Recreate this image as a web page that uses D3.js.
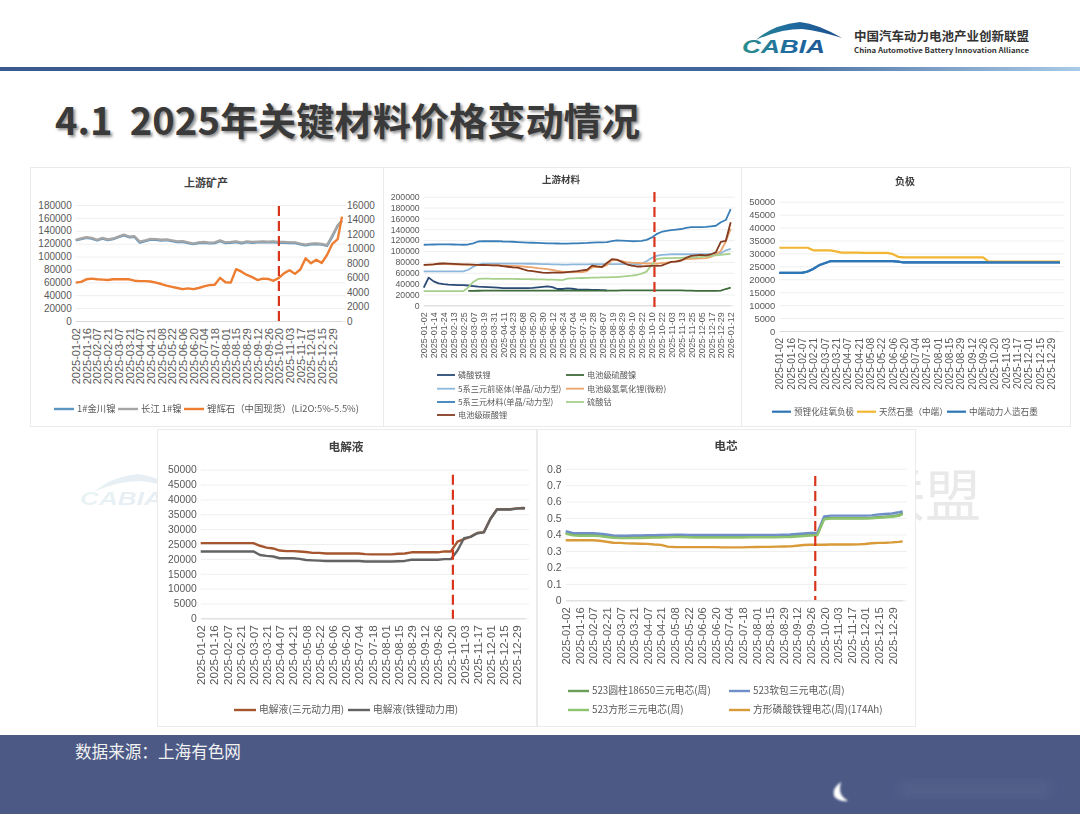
<!DOCTYPE html>
<html>
<head>
    <meta charset="utf-8">
    <title>2025年关键材料价格变动情况</title>
    <script src="https://d3js.org/d3.v7.min.js"></script>
    <style>
        body {
            margin: 0;
            background-color: white;
            font-family: "Noto Sans CJK SC", "Noto Sans", sans-serif;
        }
        svg { display: block; }
        .charts { filter: blur(0.35px); }
        .tick text, .legend text { fill: #595959; }
        .chart-title { fill: #404040; font-weight: 700; text-anchor: middle; }
    </style>
</head>
<body>
    <div id="slide"></div>
    <script>
        // Tick labels (one every 10 trading days, the series hold 2 samples per tick)
        const datesA = ["2025-01-02","2025-01-16","2025-02-07","2025-02-21","2025-03-07","2025-03-21","2025-04-07","2025-04-21","2025-05-08","2025-05-22","2025-06-06","2025-06-20","2025-07-04","2025-07-18","2025-08-01","2025-08-15","2025-08-29","2025-09-12","2025-09-26","2025-10-20","2025-11-03","2025-11-17","2025-12-01","2025-12-15","2025-12-29"];
        const datesB = ["2025-01-02","2025-01-14","2025-01-24","2025-02-13","2025-02-25","2025-03-07","2025-03-19","2025-03-31","2025-04-11","2025-04-23","2025-05-08","2025-05-20","2025-05-30","2025-06-12","2025-06-24","2025-07-04","2025-07-16","2025-07-28","2025-08-07","2025-08-19","2025-08-29","2025-09-10","2025-09-22","2025-10-10","2025-10-22","2025-11-03","2025-11-13","2025-11-25","2025-12-05","2025-12-17","2025-12-29","2026-01-12"];

        // 上游矿产
        const jinchuan = [125000,127000,129000,128000,125000,128000,125500,127000,130000,133000,130000,130500,121500,124000,126500,126000,125000,125500,124000,122500,123000,121000,119500,121000,121500,120500,121000,124000,121000,121500,122500,120500,122500,121500,122000,122500,122000,122500,121500,121500,121000,121000,119000,117500,119000,119500,118500,116500,131000,148000,156000];
        const changjiang = [126000,128000,130000,129000,126000,129000,126500,128000,131000,134000,131000,131500,123000,125000,127500,127000,126000,126500,125000,123500,124000,122000,120000,122000,122500,121500,122000,125000,122000,122500,123500,121500,123500,122500,123000,123500,123000,123500,122500,122500,122000,122000,120000,118500,120000,120500,119500,117500,133000,148000,155000];
        const spodumene = [5300,5400,5750,5850,5750,5700,5650,5750,5750,5750,5750,5560,5500,5500,5450,5300,5100,4870,4700,4550,4400,4500,4400,4550,4780,4950,5000,5950,5350,5300,7150,6800,6350,6050,5650,5850,5800,5550,5950,6600,7000,6500,7100,8650,7950,8450,8000,9100,10650,11300,14400];

        // 上游材料
        const lfp = [32500,51000,44000,40500,39000,38000,37500,37000,37000,36500,35500,34500,34000,33500,33000,32500,31800,31500,31500,31500,31500,31500,32000,33000,34000,35000,33500,30000,30000,31000,30500,29500,29000,28800,28500,28300,28000,27500,null,null,null,null,null,null,null,null,null,null,null,null,null,null,null,null,null,null,null,null,null,null,null,null,null];
        const nickelSulfate = [null,null,null,null,null,null,null,null,null,26500,26500,26800,27000,27000,27000,27000,27000,27000,27000,27000,27000,27000,27000,27000,27000,27000,27000,27000,27000,27000,27000,27000,27000,27000,27000,27000,27000,27000,27000,27000,27500,27500,27500,27500,27500,27500,27500,27500,27500,27500,27500,27500,27500,27000,27000,26500,26500,26500,26500,26500,27000,30000,32500];
        const precursor = [62600,62600,62600,62600,62600,62600,62600,62600,62600,65500,71000,75000,76500,76800,76800,76800,76800,76800,76800,76800,76700,76500,76500,76300,76000,75800,75500,75200,75000,75000,75200,75300,75500,75500,75800,76000,76000,76000,76000,76000,76000,76000,76000,76000,76500,81000,87000,91000,93000,93500,94000,94000,94000,94000,94000,94000,94000,94000,94500,95000,96000,101000,104000];
        const lioh = [74000,74500,75500,76500,76500,76000,75500,75000,75000,74500,74500,74000,74000,74000,73500,73500,73000,72500,72500,72000,71500,70500,70000,68500,67500,66500,65000,63500,62000,61500,61000,61000,61000,63000,70000,71000,70500,74000,83000,83500,81500,79500,78500,78000,77500,77000,77000,76500,77500,78500,80000,81500,83000,85000,85500,86000,86500,87000,89000,94000,100000,117000,141000];
        const cathode = [111500,111800,112000,112200,112300,112300,112000,111800,111500,112000,114000,117500,118000,118000,118200,118000,117500,117300,117000,116500,116000,115500,115200,114800,114500,114200,114000,113800,113500,113500,114000,114200,114500,114800,115500,116000,116000,116500,118000,119500,119000,118500,118000,118200,118500,120500,124500,131000,135000,137000,138500,139500,140500,142500,143800,144000,144000,144500,145500,146500,153000,157000,177000];
        const cobalt = [26000,26000,26000,26000,26000,26000,26000,26000,26000,33000,43000,48500,49000,49000,48800,48700,48600,48500,48500,48400,48300,48200,48000,47800,47600,47400,47200,46800,46500,49000,49500,50000,50300,50500,50800,51000,51300,51500,51800,52000,53000,53800,54500,55800,58500,62000,74000,85000,86500,87000,87000,87300,87500,88000,88300,88500,89000,90000,91000,92000,93000,94000,95000];
        const carbonate = [74500,75000,75500,76500,77000,76800,76300,76000,75500,75200,74800,74500,74200,74000,73700,73500,72000,71000,70000,69500,66500,64000,63000,61500,60000,59800,60000,60000,60000,61000,62000,63000,64500,65500,73000,71500,70500,78000,85000,84000,80000,75500,73000,71500,71500,72000,72500,72500,73000,76500,80000,80500,82500,87500,91000,92000,93000,92000,94000,97500,117000,118500,153000];

        // 负极
        const siliconOxide = [22500,22500,22500,22500,22500,23000,24000,25400,26200,27000,27000,27000,27000,27000,27000,27000,27000,27000,27000,27000,27000,26800,26500,26500,26500,26500,26500,26500,26500,26500,26500,26500,26500,26500,26500,26500,26500,26500,26500,26500,26500,26500,26500,26500,26500,26500,26500,26500,26500,26500,26500];
        const naturalGraphite = [32200,32200,32200,32200,32200,32200,31200,31200,31200,31200,30800,30300,30300,30300,30300,30200,30200,30200,30200,30200,29800,28700,28500,28500,28500,28500,28500,28500,28500,28500,28500,28500,28500,28500,28500,28500,28500,26800,26800,26800,26800,26800,26800,26800,26800,26800,26800,26800,26800,26800,26800];
        const artificialGraphite = [22500,22500,22500,22500,22500,23000,24000,25400,26200,27000,27000,27000,27000,27000,27000,27000,27000,27000,27000,27000,27000,26800,26500,26500,26500,26500,26500,26500,26500,26500,26500,26500,26500,26500,26500,26500,26500,26500,26500,26500,26500,26500,26500,26500,26500,26500,26500,26500,26500,26500,26500];

        // 电解液
        const electrolyteNcm = [25300,25300,25300,25300,25300,25300,25300,25300,25300,24400,23800,23500,22800,22600,22600,22500,22300,22000,22000,21800,21800,21800,21800,21800,21800,21600,21500,21500,21500,21500,21700,21800,22200,22200,22200,22200,22200,22500,22500,25800,26600,27500,28700,29000,33500,36700,36700,36700,37000,37100,37000];
        const electrolyteLfp = [22500,22500,22500,22500,22500,22500,22500,22500,22500,21300,21000,20800,20200,20200,20200,20000,19600,19500,19400,19300,19300,19300,19300,19300,19300,19100,19100,19100,19100,19100,19200,19300,19700,19700,19700,19700,19700,19900,19900,22800,27000,27400,28600,28900,33400,36600,36600,36600,36900,37100,37000];

        // 电芯
        const cellCylinder = [.41,.4,.398,.398,.398,.395,.39,.385,.382,.383,.384,.384,.385,.386,.387,.388,.389,.389,.388,.387,.387,.387,.387,.387,.387,.387,.387,.388,.388,.388,.388,.388,.389,.39,.393,.396,.399,.4,.497,.5,.5,.5,.5,.5,.5,.502,.505,.508,.511,.518,.53];
        const cellPouch = [.42,.41,.408,.408,.408,.405,.4,.395,.392,.393,.394,.394,.395,.396,.397,.398,.399,.399,.398,.397,.397,.397,.397,.397,.397,.397,.397,.398,.398,.398,.398,.398,.399,.4,.403,.406,.409,.41,.51,.515,.515,.515,.515,.515,.515,.516,.522,.525,.528,.535,.54];
        const cellPrism = [.405,.395,.392,.392,.392,.39,.385,.38,.378,.378,.379,.379,.38,.381,.382,.383,.384,.384,.383,.382,.382,.382,.382,.382,.382,.382,.382,.383,.383,.383,.383,.383,.384,.385,.388,.391,.394,.395,.493,.497,.497,.497,.497,.497,.497,.499,.502,.505,.508,.513,.525];
        const cellLfp = [.365,.365,.365,.365,.365,.362,.356,.35,.349,.346,.345,.344,.343,.339,.337,.326,.324,.323,.323,.323,.323,.323,.323,.322,.322,.322,.322,.323,.324,.325,.325,.326,.327,.328,.332,.336,.338,.338,.338,.339,.339,.339,.339,.34,.342,.347,.349,.35,.352,.355,.358];

        const width = 1080;
        const height = 814;
        const svg = d3.select("#slide").append("svg")
            .attr("width", width)
            .attr("height", height);

        // Logo, also used as the pale watermark behind the lower charts
        function drawLogo(g) {
            g.append("path")
                .attr("d", "M756,40 Q772,25 800,22 Q818,24 842,38 Q820,31 802,29 Q780,29 756,40 Z")
                .attr("fill", "url(#logoGrad)");
            g.append("text")
                .attr("x", 742).attr("y", 53)
                .attr("textLength", 83)
                .attr("lengthAdjust", "spacingAndGlyphs")
                .attr("font-family", "Liberation Sans")
                .attr("font-style", "italic")
                .attr("font-weight", 700)
                .attr("font-size", 19)
                .attr("fill", "url(#logoGrad)")
                .text("CABIA");
        }

        const defs = svg.append("defs");
        const logoGrad = defs.append("linearGradient").attr("id", "logoGrad")
            .attr("gradientUnits", "userSpaceOnUse")
            .attr("x1", 742).attr("x2", 842).attr("y1", 0).attr("y2", 0);
        logoGrad.append("stop").attr("offset", 0).attr("stop-color", "#2b8f8c");
        logoGrad.append("stop").attr("offset", 0.5).attr("stop-color", "#1f6aa0");
        logoGrad.append("stop").attr("offset", 1).attr("stop-color", "#1f4e8c");
        const ruleGrad = defs.append("linearGradient").attr("id", "ruleGrad");
        ruleGrad.append("stop").attr("offset", 0).attr("stop-color", "#3a5a8e");
        ruleGrad.append("stop").attr("offset", 0.7).attr("stop-color", "#41679c");
        ruleGrad.append("stop").attr("offset", 1).attr("stop-color", "#a9cbe8");
        defs.append("filter").attr("id", "smudge")
            .append("feGaussianBlur").attr("stdDeviation", 1.2);
        defs.append("filter").attr("id", "smudgeWide")
            .append("feGaussianBlur").attr("stdDeviation", 5);

        // Header
        drawLogo(svg.append("g"));
        svg.append("text")
            .attr("x", 854).attr("y", 41)
            .attr("textLength", 175)
            .attr("lengthAdjust", "spacingAndGlyphs")
            .attr("font-size", 12.5)
            .attr("font-weight", 700)
            .attr("fill", "#333")
            .text("中国汽车动力电池产业创新联盟");
        svg.append("text")
            .attr("x", 854).attr("y", 52.5)
            .attr("textLength", 175)
            .attr("lengthAdjust", "spacingAndGlyphs")
            .attr("font-size", 7)
            .attr("font-weight", 700)
            .attr("fill", "#333")
            .text("China Automotive Battery Innovation Alliance");
        svg.append("rect")
            .attr("x", 0).attr("y", 67)
            .attr("width", width).attr("height", 4)
            .attr("fill", "url(#ruleGrad)");
        svg.append("text")
            .attr("x", 55).attr("y", 135)
            .attr("textLength", 585)
            .attr("lengthAdjust", "spacingAndGlyphs")
            .attr("font-size", 38)
            .attr("font-weight", 700)
            .attr("fill", "#3a3a3a")
            .style("text-shadow", "2px 2px 3px rgba(0,0,0,0.45)")
            .text("4.1\u00a0\u00a02025年关键材料价格变动情况");

        // Watermark
        drawLogo(svg.append("g")
            .attr("opacity", 0.1)
            .attr("transform", "translate(-662,452)"));
        svg.append("text")
            .attr("x", 981).attr("y", 516)
            .attr("text-anchor", "end")
            .attr("font-size", 56)
            .attr("fill", "#e9e9e9")
            .text("联盟");

        // Footer
        svg.append("rect")
            .attr("x", 0).attr("y", 735)
            .attr("width", width).attr("height", 79)
            .attr("fill", "#4c5985");
        svg.append("text")
            .attr("x", 75).attr("y", 757.5)
            .attr("font-size", 16.6)
            .attr("fill", "#f2f2f2")
            .text("数据来源：上海有色网");
        svg.append("path")
            .attr("d", "M841,782 Q832,788 834,796 Q838,802 848,801 Q840,796 840,790 Q840,785 841,782 Z")
            .attr("fill", "white")
            .attr("filter", "url(#smudge)");
        svg.append("rect")
            .attr("x", 900).attr("y", 780)
            .attr("width", 150).attr("height", 18)
            .attr("fill", "#525e89")
            .attr("filter", "url(#smudgeWide)");

        const charts = svg.append("g").attr("class", "charts");

        function drawChart(c) {
            const g = charts.append("g");

            g.append("rect")
                .attr("x", c.panel[0] + 0.5).attr("y", c.panel[1] + 0.5)
                .attr("width", c.panel[2]).attr("height", c.panel[3])
                .attr("fill", "white")
                .attr("stroke", "#ebebeb");

            g.append("text")
                .attr("class", "chart-title")
                .attr("x", c.title[1]).attr("y", c.title[2])
                .attr("font-size", c.title[3])
                .text(c.title[0]);

            // x: sample index, the last sample sits at the plot's right edge
            const x = d3.scaleLinear().domain([0, c.endIndex]).range([c.left, c.right]);
            const y = d3.scaleLinear().domain([0, c.yMax]).range([c.bottom, c.top]);

            const gridAxis = d3.axisLeft(y)
                .tickValues(d3.range(0, c.yMax + c.yStep / 2, c.yStep))
                .tickSize(-(c.right - c.left + 4))
                .tickPadding(4)
                .tickFormat(d => +d.toFixed(1));
            const yAxis = g.append("g")
                .attr("transform", `translate(${c.left},0)`)
                .call(gridAxis);
            yAxis.select(".domain").remove();
            yAxis.selectAll("line").attr("stroke", "#efefef");
            yAxis.selectAll("text").attr("font-size", c.yFont);

            const tickIndex = c.dates.map((d, i) => i * 2);
            const xAxis = g.append("g")
                .attr("transform", `translate(0,${c.bottom})`)
                .call(d3.axisBottom(x)
                    .tickValues(tickIndex)
                    .tickSize(0)
                    .tickFormat(i => c.dates[i / 2]));
            xAxis.select(".domain").attr("stroke", "#d9d9d9");
            xAxis.selectAll("text")
                .attr("font-size", c.xFont)
                .attr("text-anchor", "end")
                .attr("transform", "rotate(-90)")
                .attr("x", -7)
                .attr("y", 0)
                .attr("dy", "0.35em");

            let yRight = null;
            if (c.yRightMax) {
                yRight = d3.scaleLinear().domain([0, c.yRightMax]).range([c.bottom, c.top]);
                const rightAxis = g.append("g")
                    .attr("transform", `translate(${c.right},0)`)
                    .call(d3.axisRight(yRight).ticks(8).tickSize(0).tickPadding(5).tickFormat(d3.format("d")));
                rightAxis.select(".domain").remove();
                rightAxis.selectAll("text").attr("font-size", c.yFont);
            }

            c.series.forEach(s => {
                const sy = s.right ? yRight : y;
                const line = d3.line()
                    .defined(d => d !== null)
                    .x((d, i) => x(Math.min(i, c.endIndex)))
                    .y(d => sy(d));
                g.append("path")
                    .datum(s.values)
                    .attr("fill", "none")
                    .attr("stroke", s.color)
                    .attr("stroke-width", c.lineWidth)
                    .attr("stroke-linejoin", "round")
                    .attr("d", line);
            });

            // red dashed marker, on top of the lines
            if (c.markIndex !== undefined) {
                g.append("line")
                    .attr("x1", x(c.markIndex)).attr("x2", x(c.markIndex))
                    .attr("y1", c.markTop).attr("y2", c.markBottom)
                    .attr("stroke", "#d9341c")
                    .attr("stroke-width", 2.2)
                    .attr("stroke-dasharray", "10,5");
            }

            const legend = g.append("g").attr("class", "legend");
            c.series.forEach(s => {
                legend.append("line")
                    .attr("x1", s.lx).attr("x2", s.lx + c.swatch)
                    .attr("y1", s.ly).attr("y2", s.ly)
                    .attr("stroke", s.color)
                    .attr("stroke-width", c.lineWidth);
                legend.append("text")
                    .attr("x", s.lx + c.swatch + 3)
                    .attr("y", s.ly)
                    .attr("dy", "0.35em")
                    .attr("font-size", c.legendFont)
                    .text(s.name);
            });
        }

        drawChart({
            panel: [30, 167, 353, 259],
            title: ["上游矿产", 206, 187, 11],
            dates: datesA,
            left: 75.7, right: 342, top: 205, bottom: 321, endIndex: 49.8,
            yMax: 180000, yStep: 20000, yRightMax: 16000,
            yFont: 10, xFont: 11, legendFont: 9.4, lineWidth: 2.4, swatch: 20,
            markIndex: 38, markTop: 206, markBottom: 321,
            series: [
                { name: "1#金川镍", values: jinchuan, color: "#5b95c0", lx: 54, ly: 409 },
                { name: "长江 1#镍", values: changjiang, color: "#a5a5a5", lx: 118, ly: 409 },
                { name: "锂辉石（中国现货）(Li2O:5%-5.5%)", values: spodumene, color: "#ed7d31", right: true, lx: 184, ly: 409 }
            ]
        });

        drawChart({
            panel: [383, 167, 358, 259],
            title: ["上游材料", 561, 182.5, 9.5],
            dates: datesB,
            left: 423.7, right: 730.7, top: 196.7, bottom: 305.3, endIndex: 62,
            yMax: 200000, yStep: 20000,
            yFont: 8.7, xFont: 9, legendFont: 8.2, lineWidth: 1.8, swatch: 18,
            markIndex: 46.6, markTop: 192, markBottom: 308,
            series: [
                { name: "磷酸铁锂", values: lfp, color: "#2a4a75", lx: 437, ly: 375 },
                { name: "电池级硫酸镍", values: nickelSulfate, color: "#3f6b3a", lx: 566, ly: 375 },
                { name: "5系三元前驱体(单晶/动力型)", values: precursor, color: "#8db8dc", lx: 437, ly: 388.7 },
                { name: "电池级氢氧化锂(微粉)", values: lioh, color: "#eda56e", lx: 566, ly: 388.7 },
                { name: "5系三元材料(单晶/动力型)", values: cathode, color: "#3b7fb8", lx: 437, ly: 402 },
                { name: "硫酸钴", values: cobalt, color: "#a8d08d", lx: 566, ly: 402 },
                { name: "电池级碳酸锂", values: carbonate, color: "#843c20", lx: 437, ly: 415 }
            ]
        });

        drawChart({
            panel: [741, 167, 329, 259],
            title: ["负极", 905, 185, 10],
            dates: datesA,
            left: 779.3, right: 1060, top: 201.7, bottom: 331, endIndex: 49.6,
            yMax: 50000, yStep: 5000,
            yFont: 9.4, xFont: 10.1, legendFont: 8.6, lineWidth: 2.2, swatch: 19,
            series: [
                { name: "预锂化硅氧负极", values: siliconOxide, color: "#2e75b6", lx: 772, ly: 411.7 },
                { name: "天然石墨（中端）", values: naturalGraphite, color: "#f2b632", lx: 857, ly: 411.7 },
                { name: "中端动力人造石墨", values: artificialGraphite, color: "#2e75b6", lx: 947, ly: 411.7 }
            ]
        });

        drawChart({
            panel: [157, 429, 379, 297],
            title: ["电解液", 346, 450.5, 11.7],
            dates: datesA,
            left: 200.7, right: 525, top: 469.7, bottom: 618.3, endIndex: 49.25,
            yMax: 50000, yStep: 5000,
            yFont: 10.3, xFont: 11.7, legendFont: 9.8, lineWidth: 2.4, swatch: 22,
            markIndex: 38.3, markTop: 474.7, markBottom: 618.7,
            series: [
                { name: "电解液(三元动力用)", values: electrolyteNcm, color: "#a5562f", lx: 234, ly: 710 },
                { name: "电解液(铁锂动力用)", values: electrolyteLfp, color: "#636363", lx: 348, ly: 710 }
            ]
        });

        drawChart({
            panel: [537, 429, 378, 297],
            title: ["电芯", 726, 449.5, 11.7],
            dates: datesA,
            left: 565.7, right: 902.7, top: 468.7, bottom: 600.3, endIndex: 49.56,
            yMax: 0.8, yStep: 0.1,
            yFont: 10.5, xFont: 11.2, legendFont: 9.8, lineWidth: 2.4, swatch: 21,
            markIndex: 36.7, markTop: 476, markBottom: 600,
            series: [
                { name: "523圆柱18650三元电芯(周)", values: cellCylinder, color: "#6a9e58", lx: 568, ly: 691 },
                { name: "523软包三元电芯(周)", values: cellPouch, color: "#6f8fc9", lx: 729, ly: 691 },
                { name: "523方形三元电芯(周)", values: cellPrism, color: "#8dc26e", lx: 568, ly: 710 },
                { name: "方形磷酸铁锂电芯(周)(174Ah)", values: cellLfp, color: "#d99a3a", lx: 729, ly: 710 }
            ]
        });
    </script>
</body>
</html>
